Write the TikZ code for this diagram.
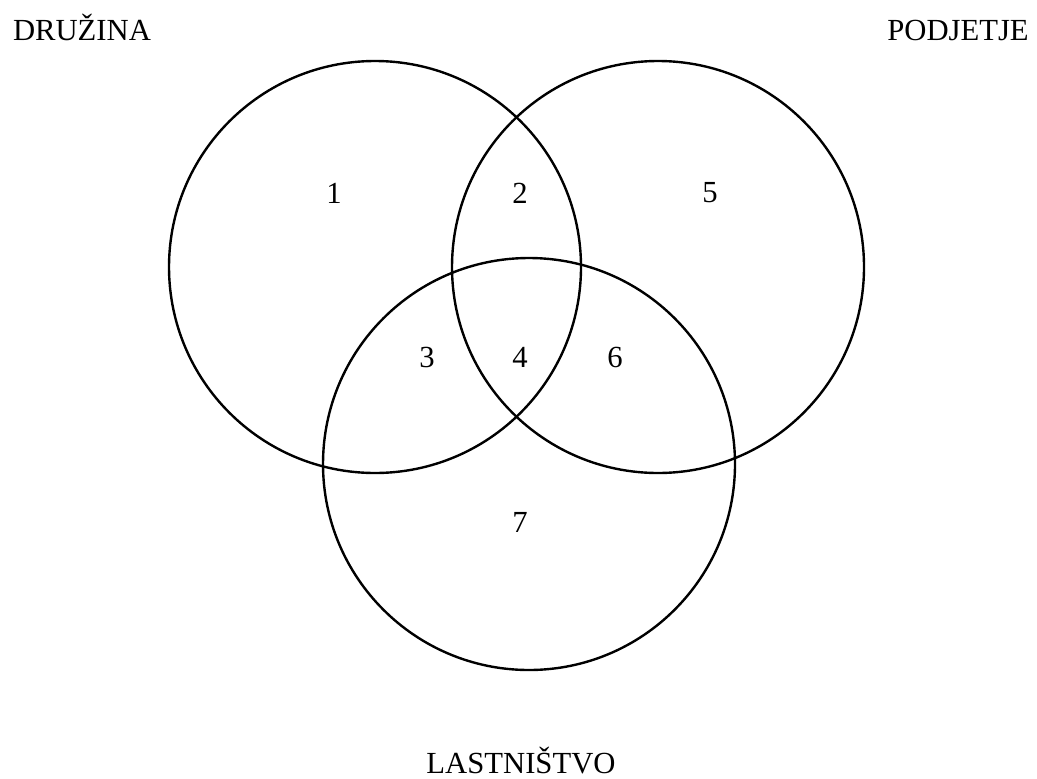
\documentclass[tikz,border=0pt]{standalone}
\usepackage{fontspec}
\setmainfont{Liberation Serif}

\begin{document}
\begin{tikzpicture}[x=.75pt,y=-.75pt,
  set/.style={draw=black,circle,line width=1.8pt,minimum size=309pt,inner sep=0pt},
  title/.style={anchor=base,font=\fontsize{23}{28}\selectfont},
  region/.style={font=\fontsize{23}{28}\selectfont,inner sep=0pt}]
\useasboundingbox (0,0) rectangle (1037,778);

% the three sets
\node[set] (druzina) at (375,267) {};
\node[set] (podjetje) at (658,267) {};
\node[set] (lastnistvo) at (529,464) {};

% set names
\node[title] (tdruzina) at (82,40) {DRUŽINA};
\node[title] (tpodjetje) at (958,40) {PODJETJE};
\node[title] (tlastnistvo) at (521,773) {LASTNIŠTVO};

% region numbers
\node[region] (r1) at (334,193) {1};
\node[region] (r2) at (520,193) {2};
\node[region] (r5) at (710,193) {5};
\node[region] (r3) at (427,357) {3};
\node[region] (r4) at (520,357) {4};
\node[region] (r6) at (615,357) {6};
\node[region] (r7) at (520,522) {7};
\end{tikzpicture}
\end{document}
